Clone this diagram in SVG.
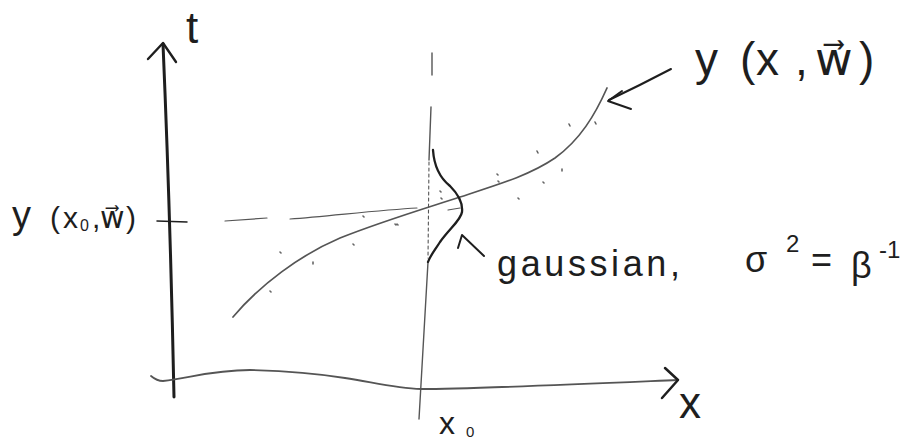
<svg xmlns="http://www.w3.org/2000/svg" width="922" height="444" viewBox="0 0 922 444">
<style>
.ink{fill:none;stroke:#1e1e1e;stroke-linecap:round;stroke-linejoin:round}
.pencil{fill:none;stroke:#555;stroke-linecap:round;stroke-linejoin:round}
.lbl{font-family:"Liberation Sans","DejaVu Sans",sans-serif;fill:#1e1e1e}
.dot{stroke:#666;stroke-width:1.6;stroke-linecap:round}
</style>
<rect width="922" height="444" fill="#fff"/>
<g id="connectors">
  <g id="t-axis">
    <path class="ink" stroke-width="3" d="M174,397 C172,300 168,160 163,44"/>
    <path class="ink" stroke-width="2.4" d="M148,59 L163,43 L176,62"/>
    <path class="ink" stroke-width="1.5" d="M157,221 L187,222"/>
  </g>
  <g id="x-axis">
    <path class="pencil" stroke="#333" stroke-width="1.8" d="M151,376 Q157,381 163,381 C190,378 212,370 250,370 C290,371 320,374 345,378 C372,382 395,388 421,389 C470,389 560,385 678,380"/>
    <path class="ink" stroke-width="2.5" d="M665,368 L678,380 L662,398"/>
  </g>
  <g id="x0-line">
    <path class="pencil" stroke="#777" stroke-width="1.4" d="M432,53 L432,75"/>
    <path class="pencil" stroke="#777" stroke-width="1.4" d="M431,107 L429,160"/>
    <path class="pencil" stroke="#999" stroke-width="1.1" stroke-dasharray="3 3" d="M429,162 L428,258"/>
    <path class="pencil" stroke="#777" stroke-width="1.4" d="M428,262 L419,419"/>
  </g>
  <g id="y-level-line">
    <path class="pencil" stroke="#777" stroke-width="1.2" d="M225,221 L267,218"/>
    <path class="pencil" stroke="#888" stroke-width="1.1" d="M290,219 C330,216 380,210 417,208"/>
    <path class="pencil" stroke="#777" stroke-width="1.2" d="M448,210 L460,208"/>
  </g>
  <g id="label-arrow-curve">
    <path class="ink" stroke-width="2" d="M671,69 C650,80 630,90 609,100"/>
    <path class="ink" stroke-width="2" d="M622,91 L608,101 L631,109"/>
  </g>
  <g id="label-arrow-gaussian">
    <path class="ink" stroke-width="2" d="M458,248 L462,235 L484,256"/>
  </g>
</g>
<g id="regression-curve">
  <path class="pencil" stroke="#3a3a3a" stroke-width="1.7" d="M233,317 C260,285 300,255 340,238 C380,222 420,210 460,197 C500,184 530,175 555,158 C580,140 595,115 607,88"/>
</g>
<g id="gaussian">
  <path class="ink" stroke-width="2.3" d="M433,150 C434,165 440,178 450,186 C458,194 463,203 462,212 C461,220 450,228 440,242 C435,250 430,256 428,262"/>
</g>
<g id="data-points">
  <path class="dot" d="M569,124 l1,2 M595,122 l1,2 M537,151 l1,2 M562,169 l0,2 M543,182 l1,1 M518,198 l1,1 M498,181 l1,1 M441,198 l1,1 M397,224 l1,1 M353,244 l1,1 M313,262 l0,2 M280,252 l1,1 M270,291 l1,1 M363,216 l1,1 M440,191 l1,1 M395,224 l1,1 M497,174 l1,1"/>
</g>
<g id="label-t">
  <text class="lbl" x="186" y="43" font-size="44">t</text>
</g>
<g id="label-y">
  <text class="lbl" y="75" font-size="46"><tspan x="695">y</tspan><tspan x="740">(</tspan><tspan x="756">x</tspan><tspan x="795">,</tspan><tspan x="815">w⃗</tspan><tspan x="859">)</tspan></text>
</g>
<g id="label-y0">
  <text class="lbl" y="228" font-size="30"><tspan x="12" font-size="38">y</tspan><tspan x="50">(</tspan><tspan x="63">x</tspan><tspan x="80" dy="3" font-size="16">0</tspan><tspan x="92" dy="-3">,</tspan><tspan x="100">w⃗</tspan><tspan x="126">)</tspan></text>
</g>
<g id="label-gaussian">
  <text class="lbl" x="497" y="276" font-size="36" textLength="183" lengthAdjust="spacing">gaussian,</text>
  <text class="lbl" y="272" font-size="36"><tspan x="745">σ</tspan><tspan x="786" y="252" font-size="24">2</tspan><tspan x="811" y="272">=</tspan><tspan x="851" y="278">β</tspan><tspan x="879" y="258" font-size="24">-1</tspan></text>
</g>
<g id="label-x">
  <text class="lbl" x="679" y="418" font-size="44">x</text>
</g>
<g id="label-x0">
  <text class="lbl" y="434" font-size="32"><tspan x="439">x</tspan><tspan x="466" y="437" font-size="15">0</tspan></text>
</g>
</svg>
